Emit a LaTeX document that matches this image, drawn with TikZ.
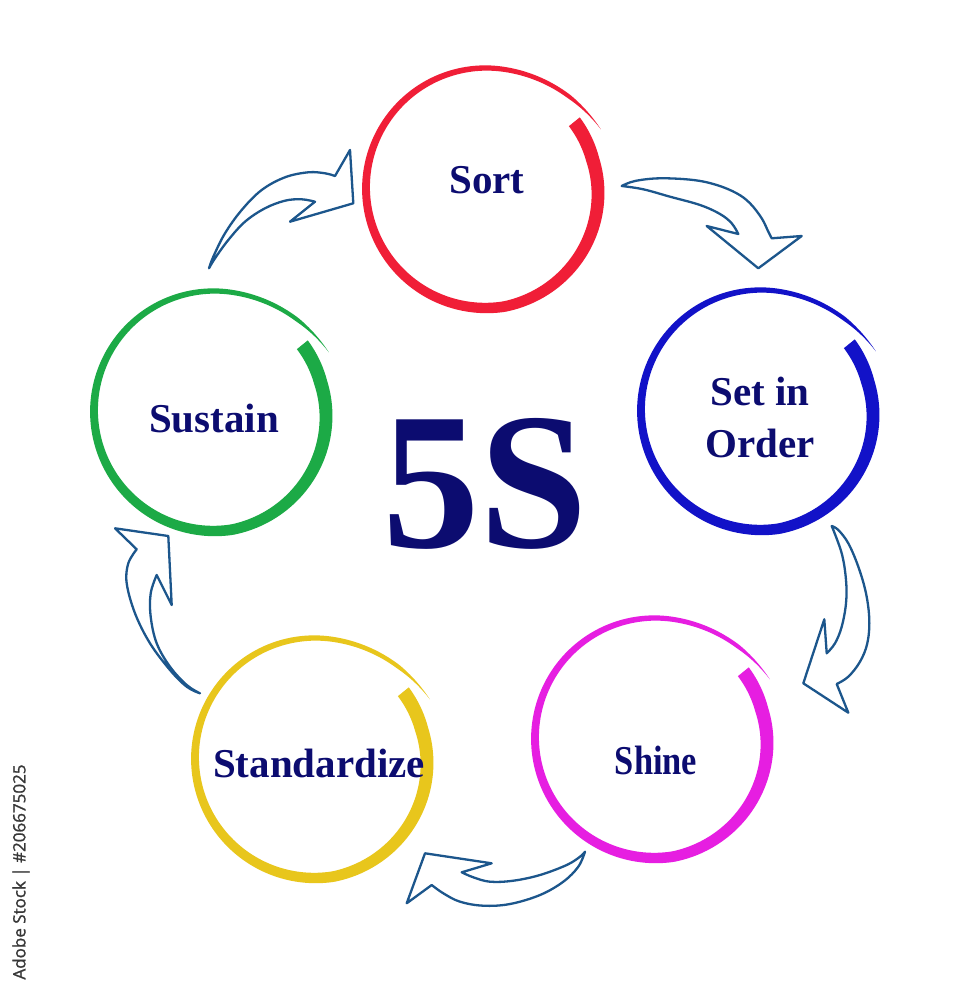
\documentclass[tikz,border=0pt]{standalone}
\usepackage{fontspec}
\setmainfont{Liberation Serif}
\newfontfamily\sidefont[FakeBold=1.2]{Open Sans}
\definecolor{navytext}{RGB}{12,12,112}
\definecolor{arrowblue}{RGB}{28,86,140}
\definecolor{ringred}{RGB}{240,30,55}
\definecolor{ringblue}{RGB}{18,18,200}
\definecolor{ringmagenta}{RGB}{230,30,225}
\definecolor{ringyellow}{RGB}{232,198,28}
\definecolor{ringgreen}{RGB}{28,170,70}
\definecolor{sidegray}{RGB}{55,55,55}
\tikzset{
  declare function={
    ba(\p)=-37+370*\p;
    bq(\p)=max(0,(\p-0.85)/0.15);
    bs(\p)=0.92+0.08*min(1,max(0,(\p-0.06)/0.26))+0.075*bq(\p)*bq(\p);
    bw(\p)=(14-10.5*\p)*min(1,(1-\p)*18);
  },
  label5s/.style={font=\bfseries\fontsize{41}{52}\selectfont, text=navytext, inner sep=0pt},
  bigtitle/.style={font=\bfseries\fontsize{195}{195}\selectfont, text=navytext, inner sep=0pt},
  arrowline/.style={draw=arrowblue, line width=2.3pt, line join=round, fill=white},
  sidenote/.style={font=\sidefont\fontsize{17}{17}\selectfont, text=sidegray, inner sep=0pt, rotate=90},
}
\newcommand\brushring[3]{%
  \fill[#3] plot[domain=0:1,samples=240,variable=\p]
     ({#1+(120*bs(\p)+bw(\p)/2)*cos(ba(\p))},{#2+(120*bs(\p)+bw(\p)/2)*sin(ba(\p))})
   -- plot[domain=1:0,samples=240,variable=\p]
     ({#1+(120*bs(\p)-bw(\p)/2)*cos(ba(\p))},{#2+(120*bs(\p)-bw(\p)/2)*sin(ba(\p))})
   -- cycle;
}
\begin{document}
\begin{tikzpicture}[x=1pt,y=-1pt]
\useasboundingbox (0,0) rectangle (968,1000);
\fill[white] (0,0) rectangle (968,1000);

% ring centres
\coordinate (csort) at (486,188);
\coordinate (cset) at (761,410);
\coordinate (cshine) at (655,738);
\coordinate (cstd) at (315,758);
\coordinate (csus) at (214,411);

\brushring{486}{188}{ringred}
\brushring{761}{410}{ringblue}
\brushring{655}{738}{ringmagenta}
\brushring{315}{758}{ringyellow}
\brushring{214}{411}{ringgreen}

% labels
\node[label5s, anchor=base] (sort) at (487,194) {Sort};
\node[label5s, align=center, anchor=center] (setin) at (760,417) {Set in\\Order};
\node[label5s, anchor=base, xscale=0.84] (shine) at (656,774) {Shine};
\node[label5s, anchor=base] (std) at (319,777) {Standardize};
\node[label5s, anchor=base] (sus) at (214,432) {Sustain};
\node[bigtitle, anchor=base] (title) at (485,547) {5S};

% arrow Sort -> Set in Order
\draw[arrowline] plot[smooth,tension=0.6] coordinates {(621.7,186) (635,181) (660,178.3) (693.3,180) (716.7,185) (736.7,193.3) (750,203.3) (761.7,218.3) (768.3,231.7) (771.7,238.3)}
  -- (801.7,236) -- (758.3,268.3) -- (706.7,226) -- (738.3,234)
  -- plot[smooth,tension=0.6] coordinates {(738.3,234) (731.7,223.3) (720,214) (700,205) (670,196.7) (643.3,189.3) (621.7,186)} -- cycle;

% arrow Set in Order -> Shine
\draw[arrowline] plot[smooth,tension=0.6] coordinates {(831.7,526) (838.3,530) (848.3,543.3) (858.3,566.7) (866,593.3) (869.3,620) (867.3,643.3) (860,661.7) (848.3,676.7) (836.7,684)}
  -- (848.3,712.7) -- (803.3,683.3) -- (824.3,619.3) -- (826.7,653.3)
  -- plot[smooth,tension=0.6] coordinates {(826.7,653.3) (835,643.3) (841.7,626.7) (846,603.3) (846,580) (841.7,553.3) (831.7,526)} -- cycle;

% arrow Shine -> Standardize
\draw[arrowline] plot[smooth,tension=0.6] coordinates {(585,851.7) (580,856.7) (566.7,865) (540,875) (513.3,880.7) (490,881.7) (473.3,877.3) (461.7,872.3)}
  -- (491.7,863.3) -- (425,853.3) -- (406.7,903.3) -- (431.7,885)
  -- plot[smooth,tension=0.6] coordinates {(431.7,885) (443.3,893.3) (460,901.7) (483.3,905.7) (510,904) (540,895) (563.3,881.7) (578.3,866.7) (585,851.7)} -- cycle;

% arrow Standardize -> Sustain
\draw[arrowline] plot[smooth,tension=0.6] coordinates {(200,693.3) (186.7,686.7) (170,670) (150,643.3) (135,613.3) (126.7,583.3) (128.3,563.3) (136.7,549.3)}
  -- (115,528.3) -- (168.3,536) -- (171.7,605) -- (156.7,575)
  -- plot[smooth,tension=0.6] coordinates {(156.7,575) (150.7,593.3) (150.7,616.7) (156.7,643.3) (170,666.7) (186.7,685) (200,693.3)} -- cycle;

% arrow Sustain -> Sort
\draw[arrowline] plot[smooth,tension=0.6] coordinates {(209,268.3) (213.3,256.7) (225,233.3) (241.7,210) (261.7,190) (285,177.3) (308.3,172.3) (325,173.3) (335,176)}
  -- (350,150) -- (353.3,203.3) -- (290,221.7) -- (315,201.7)
  -- plot[smooth,tension=0.6] coordinates {(315,201.7) (301.7,199.3) (285,200.7) (265,208.3) (245,221.7) (228.3,240) (215,258.3) (209,268.3)} -- cycle;

% side credit
\node[sidenote] (credit) at (21,872) {Adobe Stock | \#206675025};
\end{tikzpicture}
\end{document}
